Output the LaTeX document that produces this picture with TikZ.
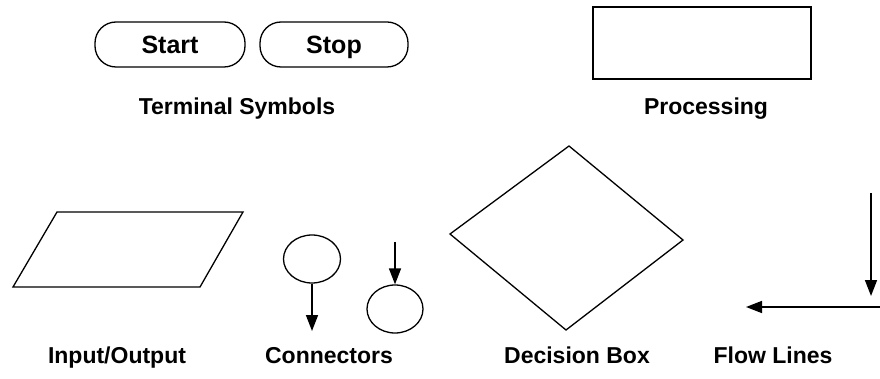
\documentclass[tikz,border=0pt]{standalone}
\usepackage{fontspec}
\setmainfont{Liberation Sans}
\usetikzlibrary{arrows.meta,shapes.geometric}
\begin{document}
\begin{tikzpicture}[x=1pt,y=-1pt,
  shape line/.style={draw=black,line width=1.3pt},
  term/.style={shape line,rounded corners=21pt,minimum height=45pt,inner sep=0pt,text height=20pt,text depth=2pt,font=\bfseries\fontsize{25}{28}\selectfont},
  lbl/.style={font=\bfseries\fontsize{23}{26}\selectfont,inner sep=0pt,anchor=base},
  conn/.style={shape line,ellipse,inner sep=0pt},
  flow/.style={line width=1.6pt,-{Triangle[length=16pt,width=12pt]}}]
\useasboundingbox (0,0) rectangle (880,379);
% terminal symbols
\node[term,minimum width=150pt] (start) at (170,44.5) {Start};
\node[term,minimum width=148pt] (stop) at (334,44.5) {Stop};
\node[lbl] (tlabel) at (237,115) {Terminal Symbols};
% processing
\node[shape line,minimum width=218pt,minimum height=72pt,inner sep=0pt] (proc) at (702,43) {};
\node[lbl] (plabel) at (706,115) {Processing};
% input/output
\draw[shape line,line join=miter] (57,212) -- (243,212) -- (200,287) -- (13,287) -- cycle;
\node[lbl] (iolabel) at (117,363) {Input/Output};
% connectors
\node[conn,minimum width=57pt,minimum height=48pt] (c1) at (312,259) {};
\coordinate (c1end) at (312,331);
\draw[flow] (c1.south) -- (c1end);
\node[conn,minimum width=56pt,minimum height=48pt] (c2) at (395,309) {};
\coordinate (c2start) at (395,242);
\draw[flow] (c2start) -- (c2.north);
\node[lbl] (clabel) at (329,363) {Connectors};
% decision
\draw[shape line,line join=miter] (450,234) -- (569,146) -- (683,240) -- (566,330) -- cycle;
\node[lbl] (dlabel) at (577,363) {Decision Box};
% flow lines
\coordinate (v1) at (871,193);
\coordinate (v2) at (871,296);
\draw[flow] (v1) -- (v2);
\coordinate (h1) at (881,307);
\coordinate (h2) at (746,307);
\draw[flow] (h1) -- (h2);
\node[lbl] (flabel) at (773,363) {Flow Lines};
\end{tikzpicture}
\end{document}
